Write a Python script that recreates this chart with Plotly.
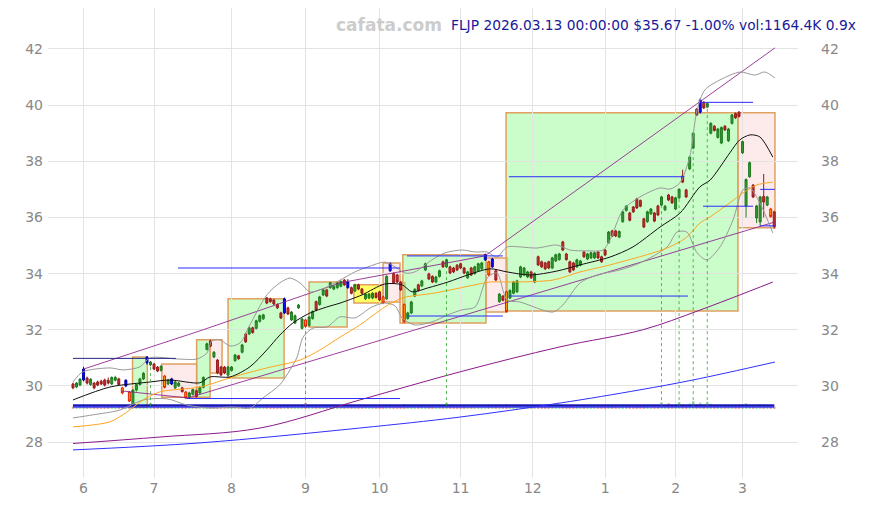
import plotly.graph_objects as go

# ---------------- data (trading-day index 0..199, 2025-05-28 .. 2026-03-13) ----------------
opens = [
30.07,29.96,30.03,30.21,30.28,30.05,30.10,30.14,30.17,30.21,
30.20,30.07,30.20,30.25,29.93,30.00,29.78,29.30,29.85,30.05,
30.25,30.82,30.75,30.78,30.67,30.55,30.35,30.07,30.07,29.93,
30.00,29.93,29.78,29.60,29.70,29.83,29.75,29.95,31.30,31.60,
31.03,30.92,30.67,30.67,30.39,30.55,30.90,31.07,31.20,31.85,
31.85,32.07,32.05,32.30,32.39,33.13,33.10,33.06,32.90,32.60,
32.60,32.78,32.35,32.24,32.78,32.05,32.35,32.15,32.40,33.00,
32.90,33.24,33.42,33.50,33.45,33.50,33.55,33.77,33.50,33.50,
33.38,33.60,33.45,33.10,33.13,33.13,33.30,33.35,33.17,33.10,
34.10,34.00,33.95,33.70,32.90,32.40,32.60,33.20,33.60,33.56,
34.13,33.99,33.90,33.70,33.90,34.42,34.24,34.24,34.20,34.30,
34.35,34.20,33.85,34.20,34.00,34.10,34.17,34.49,34.42,34.24,
34.10,33.00,33.20,33.35,33.13,33.30,33.35,33.88,33.95,33.88,
34.06,33.70,34.60,34.42,34.38,34.42,34.20,34.45,34.50,35.13,
34.70,34.42,34.38,34.24,34.30,34.77,34.52,34.56,34.56,34.77,
34.60,34.84,35.10,35.52,35.52,35.30,35.85,36.25,36.16,36.37,
36.66,36.60,35.95,35.85,36.13,36.16,36.41,36.44,36.27,36.80,
36.73,36.30,36.70,37.48,36.98,37.73,38.47,39.86,39.75,40.10,
39.93,39.00,39.25,38.85,38.65,39.25,38.73,39.35,39.70,39.75,
38.30,36.40,37.45,37.15,35.98,35.84,36.75,36.44,36.30,36.20]
highs = [
30.12,30.14,30.28,30.68,30.33,30.27,30.14,30.19,30.22,30.26,
30.30,30.34,30.36,30.29,29.97,30.24,29.82,29.88,30.08,30.29,
30.49,31.06,30.89,30.82,30.71,30.74,30.39,30.25,30.29,30.18,
30.14,29.97,29.82,29.79,29.91,29.87,29.99,30.34,31.54,31.65,
31.24,30.96,30.71,30.71,30.71,30.71,31.14,31.11,31.50,31.89,
32.11,32.11,32.36,32.54,32.57,33.17,33.14,33.10,32.94,32.64,
33.15,32.82,32.67,32.54,32.92,32.42,32.39,32.49,32.69,33.04,
33.21,33.46,33.46,33.71,33.59,33.71,33.76,33.81,33.80,33.54,
33.64,33.64,33.49,33.31,33.31,33.34,33.34,33.39,33.21,33.94,
34.40,34.04,33.99,33.74,32.94,32.64,33.03,33.48,33.64,33.78,
34.39,34.03,33.94,33.92,34.14,34.46,34.53,34.28,34.24,34.34,
34.39,34.24,34.10,34.24,34.28,34.39,34.42,34.71,34.46,34.56,
34.14,33.31,33.24,33.39,33.44,33.74,33.78,34.28,34.24,34.10,
34.10,34.04,34.64,34.46,34.42,34.46,34.60,34.71,34.74,35.17,
34.74,34.46,34.42,34.53,34.49,34.81,34.74,34.78,34.78,34.81,
34.64,34.88,35.52,35.56,35.56,35.54,36.24,36.44,36.20,36.41,
36.70,36.64,35.99,36.24,36.34,36.20,36.45,36.77,36.44,36.84,
36.77,36.74,37.04,37.70,37.02,38.19,39.04,39.90,40.25,40.14,
40.10,39.39,39.29,39.19,39.24,39.29,39.19,39.69,39.74,39.79,
38.74,37.39,37.99,37.19,36.45,36.77,37.55,36.77,36.34,36.24]
lows = [
29.88,29.92,29.99,30.16,30.05,30.00,29.88,29.99,30.03,29.98,
30.05,30.03,30.16,30.00,29.70,29.95,29.42,29.26,29.80,30.01,
30.21,30.76,30.70,30.56,30.49,30.51,29.91,30.03,30.03,29.89,
29.96,29.76,29.53,29.56,29.66,29.58,29.71,29.91,31.26,31.38,
30.99,30.42,30.35,30.42,30.35,30.51,30.86,30.93,31.16,31.53,
31.81,31.86,32.01,32.26,32.35,32.91,32.96,32.88,32.74,32.38,
32.56,32.52,32.31,32.20,32.74,32.01,32.08,32.11,32.36,32.66,
32.86,33.20,33.16,33.46,33.41,33.46,33.51,33.56,33.46,33.26,
33.34,33.41,33.26,33.06,33.09,33.09,33.11,33.02,32.91,33.06,
34.06,33.63,33.66,33.38,32.24,32.36,32.56,33.16,33.36,33.52,
34.09,33.77,33.66,33.66,33.86,34.20,34.20,33.98,34.02,34.09,
34.16,33.98,33.81,33.91,33.96,34.06,34.13,34.45,33.91,34.20,
33.73,32.96,33.01,32.61,33.09,33.26,33.31,33.84,33.91,33.84,
33.81,33.66,34.27,34.20,34.13,34.16,34.16,34.41,34.46,34.80,
34.46,34.02,34.09,34.20,34.26,34.56,34.48,34.52,34.52,34.52,
34.38,34.62,35.06,35.30,35.30,35.26,35.81,36.21,35.86,36.16,
36.30,36.36,35.62,35.81,36.09,35.83,36.05,36.40,36.23,36.58,
36.48,36.26,36.66,37.22,36.69,37.69,38.43,39.61,39.70,39.86,
39.89,38.96,39.06,38.81,38.61,39.08,38.69,39.31,39.51,39.56,
38.26,36.00,37.41,36.69,35.80,35.70,36.00,36.40,35.99,35.60]
closes = [
29.93,30.10,30.24,30.60,30.10,30.24,29.93,30.03,30.07,30.03,
30.10,30.30,30.30,30.05,29.75,30.20,29.46,29.85,30.05,30.25,
30.45,31.03,30.85,30.60,30.53,30.70,29.95,30.21,30.25,30.14,
30.10,29.80,29.57,29.75,29.87,29.62,29.95,30.30,31.50,31.42,
31.20,30.46,30.39,30.46,30.67,30.67,31.10,30.97,31.46,31.57,
32.07,31.90,32.32,32.50,32.53,32.95,33.00,32.92,32.78,32.42,
33.10,32.56,32.63,32.50,32.88,32.38,32.12,32.45,32.65,32.70,
33.17,33.42,33.20,33.67,33.55,33.67,33.72,33.60,33.70,33.30,
33.60,33.45,33.30,33.27,33.27,33.30,33.15,33.06,32.95,33.90,
34.35,33.67,33.70,33.42,32.30,32.60,32.99,33.44,33.40,33.74,
34.35,33.81,33.70,33.88,34.10,34.24,34.49,34.02,34.06,34.13,
34.20,34.02,34.06,33.95,34.24,34.35,34.38,34.67,33.95,34.52,
33.77,33.27,33.05,32.65,33.40,33.70,33.74,34.24,34.20,34.06,
33.85,34.00,34.31,34.24,34.17,34.20,34.56,34.67,34.70,34.84,
34.50,34.06,34.13,34.49,34.45,34.60,34.70,34.74,34.74,34.56,
34.42,34.66,35.48,35.34,35.34,35.50,36.20,36.40,35.90,36.20,
36.34,36.40,35.66,36.20,36.30,35.87,36.09,36.73,36.40,36.62,
36.52,36.70,37.00,37.26,36.73,38.15,39.00,39.65,40.18,39.90,
40.06,39.35,39.10,39.15,39.20,39.12,39.15,39.65,39.55,39.60,
38.70,37.35,37.95,36.73,36.41,36.73,36.55,36.73,36.03,35.67]
volumes = [
1100, 950,1200,1800,1000, 900,1300, 850, 700,1000,
 900,1100, 800,1200,1600,1400,2100,2300,1300,1100,
1200,1900,2800,1500,1000, 900,1700,1100,1200, 950,
 800,1000,1800,1200, 900,1000,1100,1400,1900,1600,
1200,1500,1300,1100,1000, 900,1200, 800,1300,1500,
1400,1000,1200,1100, 900,1700,1000, 900,1100,1400,
1800,1300,1200,1100, 800,1400,2700,1300,1200,1400,
1100,1200,1000,1300, 900,1000,1100,1200,1600,1100,
 900, 800,1000,1100, 900, 950,1000,1200,1500,1700,
2000,1600,1300,1400,2200,1500,1400,1300,1100,1000,
1500,1200,1100,1000,1100,1300,2900,1200,1000,1100,
1000,1200,1100,1000,1200,1100,1000,1500,1900,1700,
1600,2000,1400,2100,1500,1600,1400,1700,1200,1100,
1000,1100,1500,1200,1100,1000,1300,1200,1100,1400,
1200,1300,1100,1200,1000,1100,1000,1100, 900,1000,
1100,1200,1800,1300,1200,1100,1900,1400,1300,1200,
1500,1300,1600,1400,1200,1300,1400,3000,1500,2600,
1600,1700,3100,2000,1700,2400,3500,2200,2800,1900,
3200,2300,1600,1500,1700,1300,1500,1600,1400,2000,
2200,2600,1900,1700,1800,2000,1900,1500,1400,1164]

blue_days = [3, 15, 21, 28, 60, 78, 90, 117, 119, 178]
orange_days = [14, 16, 26, 32, 66, 88, 94, 118, 123, 198]
spike_days = [22, 66, 106, 167, 172, 176, 180]

sma20_x = [0, 10.5, 21.9, 27.5, 36, 38.9, 44.6, 50.2, 55, 58.7, 62.4, 67.3, 72, 75.8, 82, 88.5, 93.4,
           96.2, 100.7, 106.4, 112, 118.3, 123.2, 129.7, 137.3, 143.9, 152.4, 158.9, 166.6, 172.3,
           177.9, 180.8, 186.4, 189.2, 192.1, 194.9, 198.6]
sma20_y = [29.50, 29.96, 30.14, 30.21, 30.11, 30.32, 30.32, 30.68, 31.28, 31.81, 32.24, 32.60, 32.81,
           32.95, 33.24, 33.63, 33.60, 33.35, 33.49, 33.70, 33.95, 34.17, 34.06, 33.95, 34.09, 34.31,
           34.59, 34.95, 35.66, 36.16, 37.09, 37.33, 38.30, 38.76, 38.94, 38.87, 38.15]
bb_up_x = [0, 2.8, 10.5, 14.2, 19, 21.9, 29.5, 35.2, 38, 39.4, 41.7, 44.6, 47.4, 50.2, 55, 58.7, 61.6,
           64.4, 67.3, 71.5, 75.8, 80, 83.7, 88.5, 91.4, 94.2, 97, 101.9, 105.6, 110.4, 114.1, 117.5,
           120.3, 123.2, 126.8, 131.7, 137.3, 141, 145.9, 150.4, 152.4, 156.1, 160.9, 166.6, 169.4,
           172.2, 175, 177.1, 179.3, 183.6, 189.3, 193.5, 196.3, 199.2]
bb_up_y = [30.14, 30.50, 30.64, 30.57, 30.68, 31.00, 30.96, 30.96, 31.17, 31.60, 31.64, 31.42, 31.53,
           32.17, 33.24, 33.67, 33.84, 33.67, 33.35, 33.49, 33.77, 34.06, 34.24, 34.41, 34.24, 34.02,
           34.06, 34.49, 34.74, 34.84, 34.77, 34.77, 34.59, 34.95, 34.95, 34.91, 35.02, 34.84, 34.81,
           34.84, 35.20, 36.27, 36.73, 37.05, 37.01, 37.23, 38.15, 39.83, 40.54, 40.90, 41.18, 41.07,
           41.18, 40.97]
bb_lo_x = [0, 5.7, 13.3, 19.9, 26.7, 32.3, 38.9, 45.4, 50.2, 53.9, 58.7, 61.6, 63.6, 65.3, 68.1, 72.1,
           75.8, 80, 84.8, 88.5, 91.4, 93.4, 97, 101.9, 106.4, 110.4, 114.1, 117.5, 120.3, 123.2,
           126.8, 136.2, 139, 143.9, 148.7, 155.2, 160.9, 168.6, 171.4, 174.2, 177.1, 179.9, 183.6,
           187.3, 190.1, 192.1, 194.9, 198.6]
bb_lo_y = [28.86, 28.97, 29.14, 29.50, 29.54, 29.32, 29.21, 29.25, 29.21, 29.57, 30.04, 30.57, 31.03,
           31.74, 32.06, 32.10, 32.46, 32.42, 32.81, 32.95, 32.85, 32.42, 32.17, 32.28, 32.53, 32.71,
           32.81, 33.84, 34.02, 33.06, 32.99, 32.63, 32.88, 33.67, 33.95, 34.13, 34.38, 34.95, 35.48,
           35.48, 34.74, 34.49, 34.95, 35.91, 36.98, 37.05, 36.52, 35.45]
sma50_x = [0, 10.5, 15.3, 19.9, 24.7, 36, 45.4, 55, 64.4, 70.1, 75.8, 81.4, 88.5, 93.4, 102.7, 114.1,
           118.3, 124.9, 136.2, 143.9, 152.4, 168.6, 174.2, 177.9, 180.8, 186.4, 190.1, 194.1, 198.6]
sma50_y = [28.54, 28.72, 29.07, 29.50, 29.79, 29.96, 30.32, 30.64, 30.92, 31.28, 31.74, 32.17, 32.81,
           33.13, 33.31, 33.60, 33.70, 33.70, 33.77, 34.06, 34.31, 34.91, 35.30, 35.80, 36.02, 36.52,
           36.87, 37.16, 37.26]
ma_long_x = [0, 24.7, 53.1, 81.4, 109.8, 138.2, 161.7, 177.9, 198.6]
ma_long_y = [27.95, 28.18, 28.50, 29.50, 30.50, 31.39, 32.00, 32.70, 33.70]
ma_vlong_x = [0, 36, 81.4, 109.8, 138.2, 160.9, 175.9, 199.2]
ma_vlong_y = [27.72, 27.97, 28.50, 28.89, 29.39, 29.86, 30.21, 30.85]
chan_up_x = [3, 36, 75.8, 116.9, 199.2]
chan_up_y = [30.60, 31.96, 33.67, 34.63, 42.04]
chan_mid_x = [13.9, 32.6, 199.2]
chan_mid_y = [29.82, 29.57, 35.84]

# horizontal level segments: (start day, end day, price)
levels = [(0, 29.2, 30.98), (29.8, 92.8, 34.20), (32.3, 92.8, 29.55), (94.8, 122, 32.49),
          (94.8, 122, 34.63), (123.7, 173.5, 37.45), (123.7, 174.5, 33.20), (178, 193, 40.10),
          (178.8, 193, 36.40), (195, 199.2, 37.00), (195, 199.2, 35.70)]
base_level = 29.28

# swing boxes: (start day, end day, low, high, kind)
boxes = [(16.9, 21.1, 29.25, 31.03, 'g'), (25.2, 35.1, 29.60, 30.78, 'p'),
         (35.1, 38.9, 29.60, 31.64, 'g'), (38.9, 42.3, 30.46, 31.64, 'p'),
         (44.0, 59.9, 30.28, 33.10, 'g'), (67.0, 77.8, 32.10, 33.70, 'g'),
         (79.7, 88.0, 32.95, 33.60, 'y'), (88.0, 92.8, 32.99, 34.38, 'p'),
         (92.8, 94.2, 32.24, 33.67, 'p'), (93.6, 117.2, 32.24, 34.67, 'g'),
         (117.2, 123.2, 32.63, 34.56, 'p'), (122.9, 188.7, 32.67, 39.73, 'g'),
         (188.7, 199.2, 35.63, 39.73, 'p')]

month_ticks = [3, 23, 45, 66, 87, 110, 130.5, 151, 171, 190]
month_labels = ['6', '7', '8', '9', '10', '11', '12', '1', '2', '3']
price_ticks = [28, 30, 32, 34, 36, 38, 40, 42]

# ---------------- figure ----------------
days = list(range(len(closes)))
fig = go.Figure()

# volume bars at the bottom
vmax = max(volumes)
vol_base = 29.18
fig.add_trace(go.Bar(
    x=days, y=[v / vmax * 0.28 for v in volumes], base=vol_base, width=0.7,
    marker=dict(color=['rgba(60,170,60,0.45)' if c >= o else 'rgba(200,60,60,0.45)'
                       for o, c in zip(opens, closes)], line=dict(width=0)),
    hoverinfo='skip', showlegend=False))

fig.add_trace(go.Scatter(x=[0, days[-1]], y=[base_level, base_level], mode='lines',
                         line=dict(color='rgba(40,40,235,0.9)', width=3.5), hoverinfo='skip'))
fig.add_trace(go.Scatter(x=[0, days[-1]], y=[base_level + 0.03, base_level + 0.03], mode='lines',
                         line=dict(color='#101080', width=1), hoverinfo='skip'))

# long moving averages
fig.add_trace(go.Scatter(x=ma_vlong_x, y=ma_vlong_y, mode='lines', line=dict(color='#3030ff', width=1, shape='spline')))
fig.add_trace(go.Scatter(x=ma_long_x, y=ma_long_y, mode='lines', line=dict(color='#8a1a8a', width=1, shape='spline')))
# channel lines
fig.add_trace(go.Scatter(x=chan_up_x, y=chan_up_y, mode='lines', line=dict(color='rgba(140,30,140,0.85)', width=1)))
fig.add_trace(go.Scatter(x=chan_mid_x, y=chan_mid_y, mode='lines', line=dict(color='rgba(140,30,140,0.85)', width=1)))
# bollinger + sma
fig.add_trace(go.Scatter(x=bb_up_x, y=bb_up_y, mode='lines', line=dict(color='#999999', width=1, shape='spline', smoothing=0.8)))
fig.add_trace(go.Scatter(x=bb_lo_x, y=bb_lo_y, mode='lines', line=dict(color='#999999', width=1, shape='spline', smoothing=0.8)))
fig.add_trace(go.Scatter(x=sma50_x, y=sma50_y, mode='lines', line=dict(color='#ffa520', width=1, shape='spline', smoothing=0.8)))
fig.add_trace(go.Scatter(x=sma20_x, y=sma20_y, mode='lines', line=dict(color='#111111', width=1, shape='spline', smoothing=0.8)))

# horizontal level segments
for i, (a, b, p) in enumerate(levels):
    col = '#26268a' if i == 0 else '#2a2aff'
    fig.add_trace(go.Scatter(x=[a, b], y=[p, p], mode='lines', line=dict(color=col, width=1), hoverinfo='skip'))

# dotted volume-spike markers
for d in spike_days:
    fig.add_trace(go.Scatter(x=[d, d], y=[base_level, lows[d]], mode='lines',
                             line=dict(color='rgba(40,160,40,0.75)', width=1, dash='dot'), hoverinfo='skip'))

special = set(blue_days) | set(orange_days)
normal = [d for d in days if d not in special]

def pick(arr, idx):
    return [arr[i] for i in idx]

fig.add_trace(go.Candlestick(
    x=normal, open=pick(opens, normal), high=pick(highs, normal), low=pick(lows, normal), close=pick(closes, normal),
    increasing=dict(line=dict(color='#1f7a1f', width=1), fillcolor='#2e9a2e'),
    decreasing=dict(line=dict(color='#9a1a1a', width=1), fillcolor='#c03030'),
    whiskerwidth=0))
fig.add_trace(go.Candlestick(
    x=blue_days, open=pick(opens, blue_days), high=pick(highs, blue_days), low=pick(lows, blue_days), close=pick(closes, blue_days),
    increasing=dict(line=dict(color='#0000b0', width=1), fillcolor='#0a0aff'),
    decreasing=dict(line=dict(color='#0000b0', width=1), fillcolor='#0a0aff'),
    whiskerwidth=0))
fig.add_trace(go.Candlestick(
    x=orange_days, open=pick(opens, orange_days), high=pick(highs, orange_days), low=pick(lows, orange_days), close=pick(closes, orange_days),
    increasing=dict(line=dict(color='#e02000', width=1), fillcolor='#ffa500'),
    decreasing=dict(line=dict(color='#e02000', width=1), fillcolor='#ffa500'),
    whiskerwidth=0))

fills = {'g': 'rgba(140,250,140,0.45)', 'p': 'rgba(250,190,190,0.30)', 'y': 'rgba(255,255,0,0.6)'}
shapes = []
for a, b, lo, hi, k in boxes:
    shapes.append(dict(type='rect', xref='x', yref='y', x0=a, x1=b, y0=lo, y1=hi,
                       fillcolor=fills[k], line=dict(color='#e0a060', width=1.5), layer='below'))

# page body adds an 8px offset, so the figure is 8px smaller than the window on each axis
yr = [26.72, 43.46]
fig.update_layout(
    width=861, height=497, margin=dict(l=40, r=71, t=0, b=27),
    paper_bgcolor='white', plot_bgcolor='white', showlegend=False,
    font=dict(family='DejaVu Sans', color='#888888', size=14),
    shapes=shapes, barmode='overlay', boxgap=0.2,
    xaxis=dict(range=[-7.09, 205.74], tickvals=month_ticks, ticktext=month_labels, showgrid=True,
               gridcolor='#e3e3e3', zeroline=False, showline=False, rangeslider=dict(visible=False),
               tickfont=dict(size=14, color='#888888'), ticks=''),
    yaxis=dict(range=yr, tickvals=price_ticks, showgrid=True, gridcolor='#e3e3e3', zeroline=False,
               tickfont=dict(size=14, color='#888888'), ticks='', ticklabelstandoff=4),
    yaxis2=dict(range=yr, tickvals=price_ticks, overlaying='y', side='right', showgrid=False,
                zeroline=False, tickfont=dict(size=14, color='#888888'), ticklabelstandoff=22, ticks=''),
    annotations=[
        dict(text='<b>cafata.com</b>', xref='paper', yref='paper', x=0.4547, y=0.9638, showarrow=False,
             font=dict(size=17, color='#cccccc', family='DejaVu Sans'), xanchor='center', yanchor='middle'),
        dict(text='FLJP 2026.03.13 00:00:00 $35.67 -1.00% vol:1164.4K 0.9x', xref='paper', yref='paper',
             x=1.08, y=0.9638, showarrow=False, xanchor='right', yanchor='middle',
             font=dict(size=13.8, color='#1a1a9a', family='DejaVu Sans')),
    ])
# invisible trace to activate right axis
fig.add_trace(go.Scatter(x=[0], y=[30], yaxis='y2', mode='markers', marker=dict(opacity=0), hoverinfo='skip'))

fig.write_html('out.html')
